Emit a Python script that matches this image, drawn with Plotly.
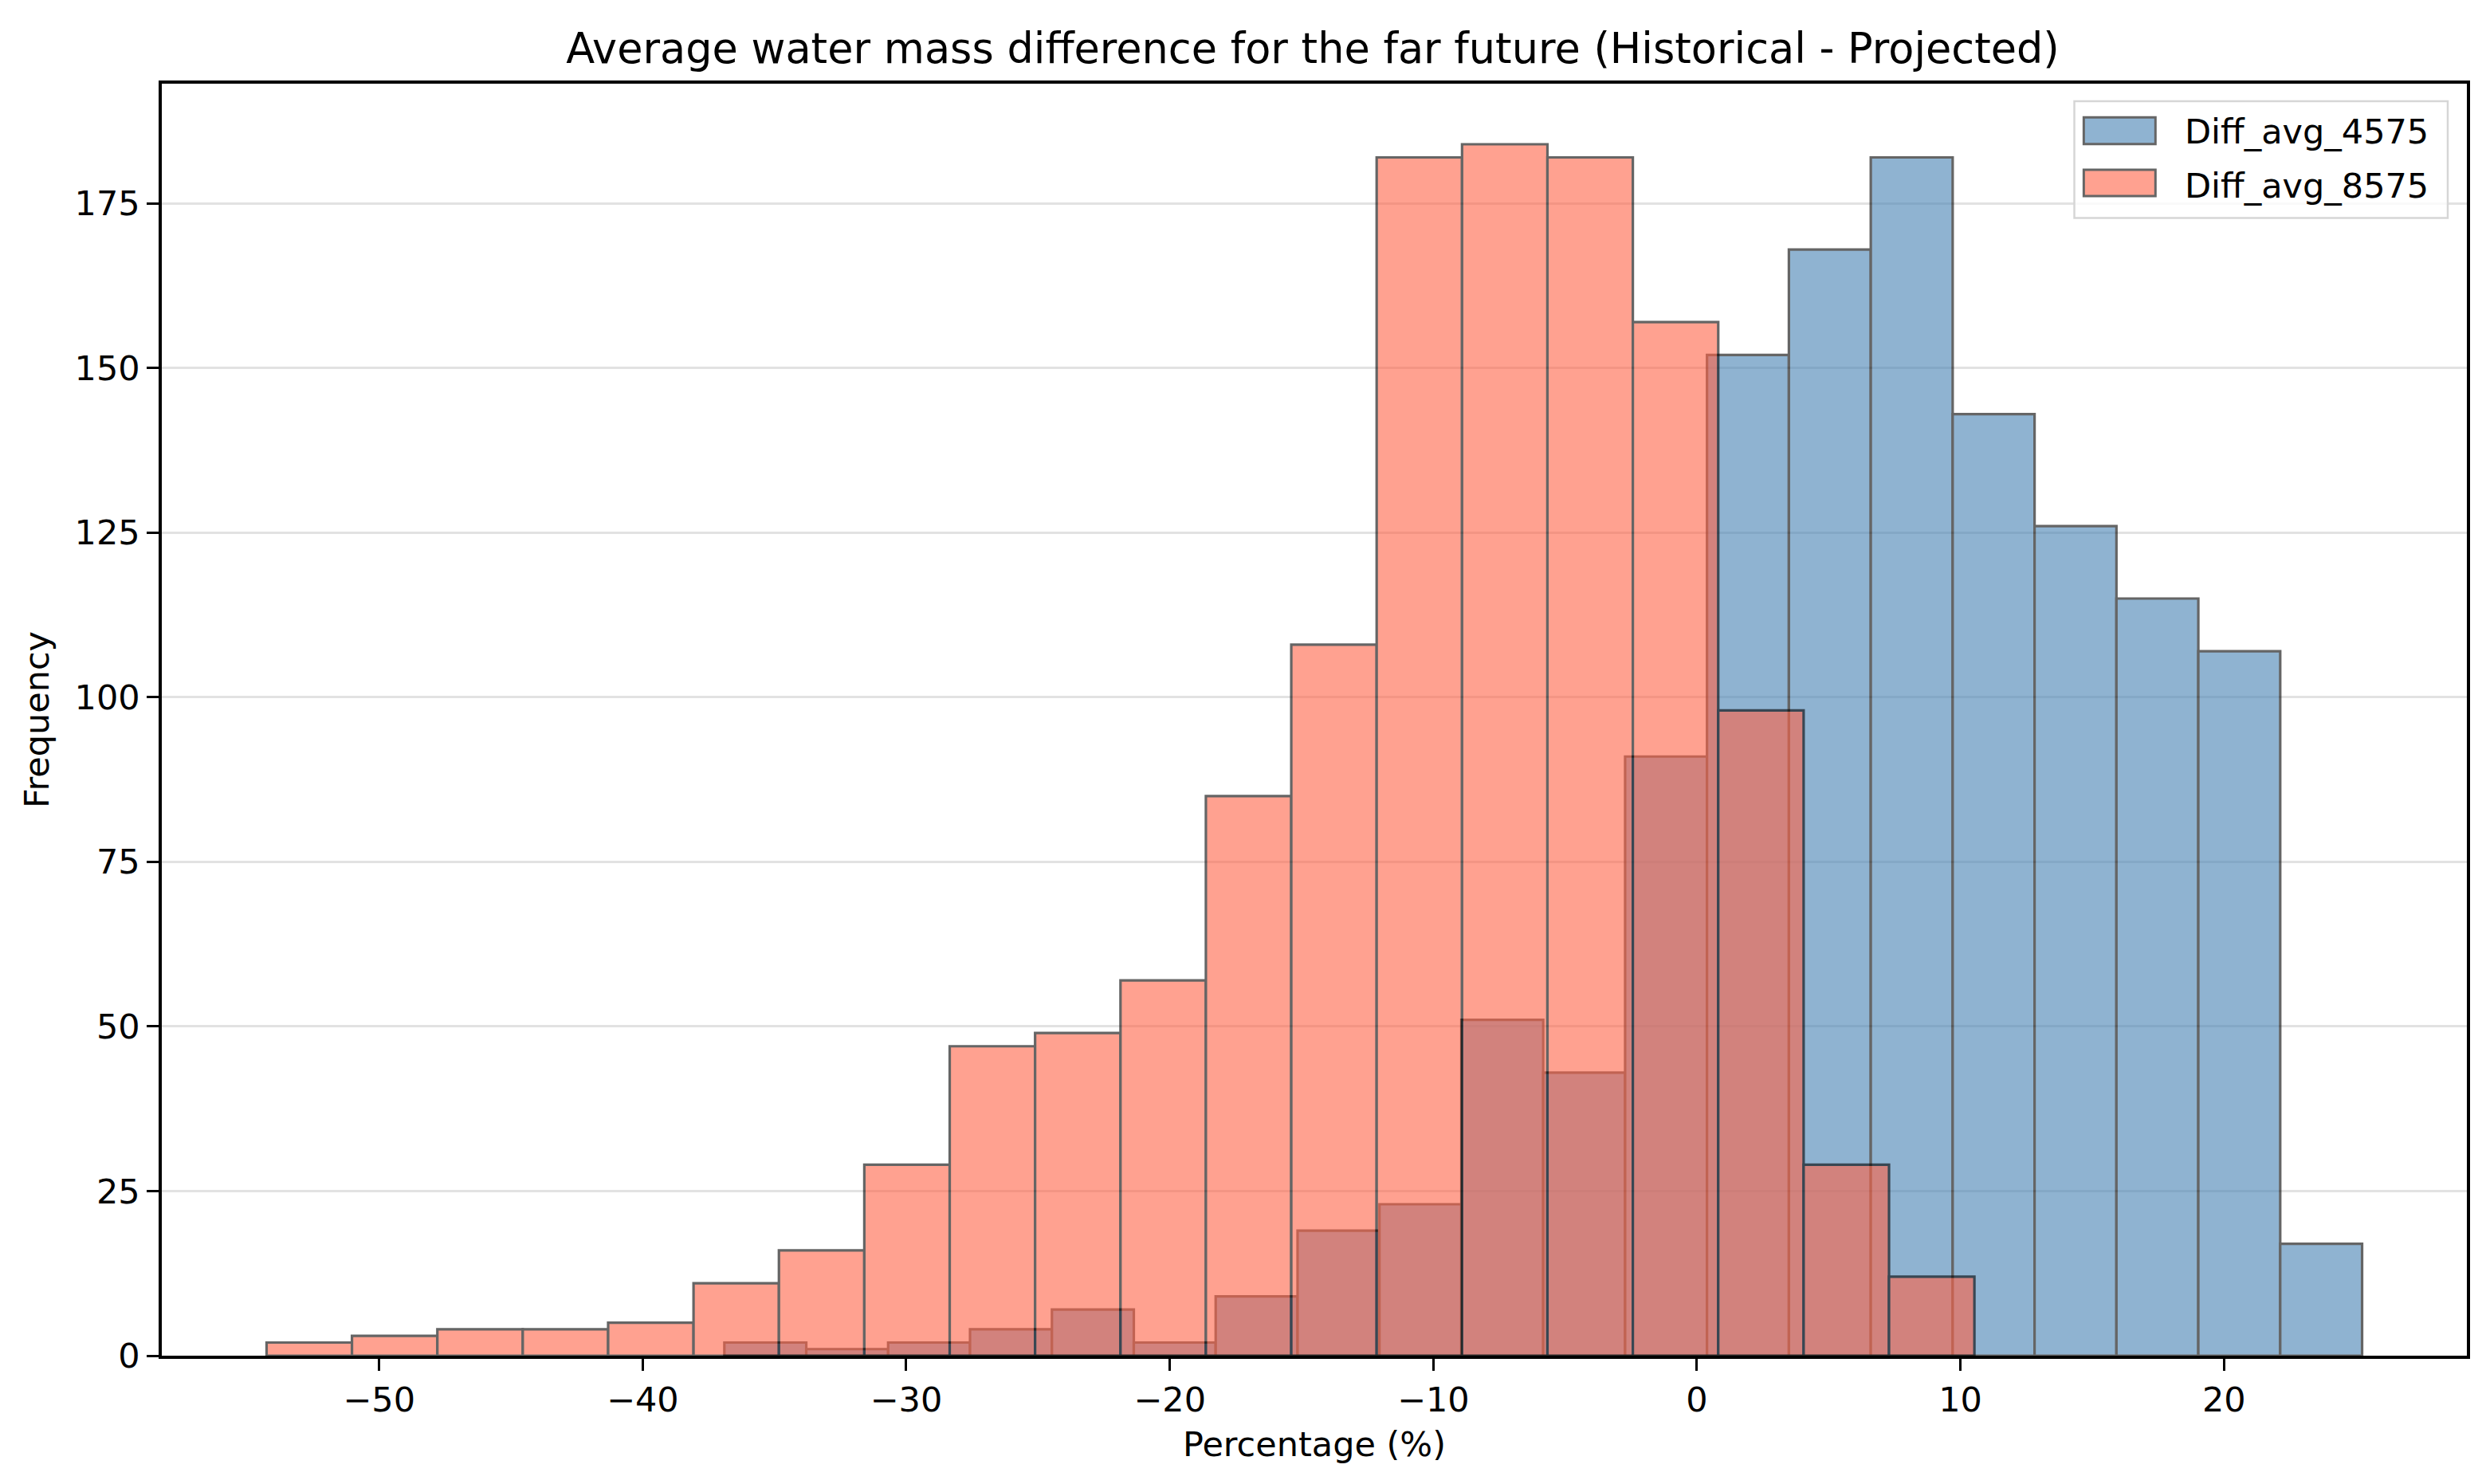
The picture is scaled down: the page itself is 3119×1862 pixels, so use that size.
import numpy as np
import plotly.graph_objects as go

# histogram counts (20 bins each)
names = ["Diff_avg_4575", "Diff_avg_8575"]

counts_4575 = [2, 1, 2, 4, 7, 2, 9, 19, 23, 51, 43, 91, 152, 168, 182, 143, 126, 115, 107, 17]
start_4575 = -36.9
binw_4575 = 3.107

counts_8575 = [2, 3, 4, 4, 5, 11, 16, 29, 47, 49, 57, 85, 108, 182, 184, 182, 157, 98, 29, 12]
start_8575 = -54.27
binw_8575 = 3.24

x_ticks = [-50, -40, -30, -20, -10, 0, 10, 20]
y_ticks = [0, 25, 50, 75, 100, 125, 150, 175]

FONT = "DejaVu Sans"
colors = ["steelblue", "tomato"]
ALPHA = 0.6


def centers(start, w, n):
    return start + w * (np.arange(n) + 0.5)


fig = go.Figure()

fig.add_trace(go.Bar(
    x=centers(start_4575, binw_4575, len(counts_4575)),
    y=counts_4575,
    width=binw_4575,
    name=names[0],
    marker=dict(color=colors[0], line=dict(color="black", width=3.2)),
    opacity=ALPHA,
    showlegend=False,
))

fig.add_trace(go.Bar(
    x=centers(start_8575, binw_8575, len(counts_8575)),
    y=counts_8575,
    width=binw_8575,
    name=names[1],
    marker=dict(color=colors[1], line=dict(color="black", width=3.2)),
    opacity=ALPHA,
    showlegend=False,
))

all_left = min(start_4575, start_8575)
all_right = max(start_4575 + binw_4575 * len(counts_4575),
                start_8575 + binw_8575 * len(counts_8575))
pad = 0.05 * (all_right - all_left)
ymax = max(max(counts_4575), max(counts_8575)) * 1.05

# legend drawn by hand so the swatches are wide patches like matplotlib's
shapes = [dict(type="rect", xref="paper", yref="paper",
               x0=0.8297, x1=0.9917, y0=0.8944, y1=0.98625,
               fillcolor="rgba(255,255,255,0.8)",
               line=dict(color="#d6d6d6", width=2.5), layer="above")]
annotations = []
sw_y = [(0.9526, 0.9735), (0.9116, 0.9323)]
txt_y = [0.9625, 0.92]
for i in range(2):
    shapes.append(dict(type="rect", xref="paper", yref="paper",
                       x0=0.8338, x1=0.8649, y0=sw_y[i][0], y1=sw_y[i][1],
                       fillcolor=colors[i], opacity=ALPHA,
                       line=dict(color="black", width=3), layer="above"))
    annotations.append(dict(xref="paper", yref="paper", x=0.877, y=txt_y[i],
                            xanchor="left", yanchor="middle", showarrow=False,
                            text=names[i], font=dict(size=43, family=FONT)))

fig.update_layout(
    width=3119,
    height=1862,
    barmode="overlay",
    paper_bgcolor="white",
    plot_bgcolor="white",
    font=dict(family=FONT, size=43, color="black"),
    margin=dict(l=195, r=32, t=97, b=169),
    title=dict(
        text="Average water mass difference for the far future (Historical - Projected)",
        x=0.5255, xanchor="center",
        y=0.972, yanchor="middle",
        font=dict(size=52.5, family=FONT),
    ),
    xaxis=dict(
        range=[all_left - pad, all_right + pad],
        tickvals=x_ticks,
        ticks="outside", ticklen=15, tickwidth=3, tickcolor="black",
        showline=True, linecolor="black", linewidth=3.5, mirror=True,
        showgrid=False, zeroline=False,
        title=dict(text="Percentage (%)", standoff=18, font=dict(size=43)),
        tickfont=dict(size=43),
    ),
    yaxis=dict(
        range=[0, ymax],
        tickvals=y_ticks,
        ticks="outside", ticklen=15, tickwidth=3, tickcolor="black",
        showline=True, linecolor="black", linewidth=3.5, mirror=True,
        showgrid=True, gridcolor="#e2e2e2", gridwidth=3,
        zeroline=False,
        title=dict(text="Frequency", standoff=20, font=dict(size=43)),
        tickfont=dict(size=43),
    ),
    shapes=shapes,
    annotations=annotations,
)

fig.write_html("out.html")
